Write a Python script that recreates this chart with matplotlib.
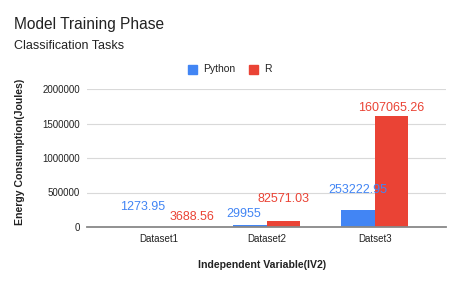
import matplotlib
matplotlib.use('Agg')
import matplotlib.pyplot as plt
import numpy as np
from matplotlib.patches import Rectangle

plt.rcParams['font.family'] = ['Liberation Sans', 'DejaVu Sans']

# Data
datasets = ['Dataset1', 'Dataset2', 'Datset3']
python_vals = [1273.95, 29955, 253222.95]
r_vals = [3688.56, 82571.03, 1607065.26]
python_labels = ['1273.95', '29955', '253222.95']
r_labels = ['3688.56', '82571.03', '1607065.26']
y_ticks = [0, 500000, 1000000, 1500000, 2000000]

blue = '#4285F4'
red = '#EA4335'

# label offsets (points) so the labels are staggered like the original
py_off = [(1, 14), (-4, 8), (0, 14)]
r_off = [(12, 7), (0, 16), (0, 6)]

W, H = 460, 285
fig = plt.figure(figsize=(W / 100, H / 100), dpi=100)
ax = fig.add_axes([87 / W, (H - 227) / H, 359 / W, 138 / H])

x = np.arange(len(datasets))
bw = 0.31
ax.bar(x - bw / 2, python_vals, bw, color=blue, zorder=3)
ax.bar(x + bw / 2, r_vals, bw, color=red, zorder=3)

for i in range(len(datasets)):
    ax.annotate(python_labels[i], (x[i] - bw / 2, python_vals[i]), xytext=py_off[i],
                textcoords='offset points', ha='center', va='center', fontsize=9, color=blue, zorder=4)
    ax.annotate(r_labels[i], (x[i] + bw / 2, r_vals[i]), xytext=r_off[i],
                textcoords='offset points', ha='center', va='center', fontsize=9, color=red, zorder=4)

ax.set_xlim(-0.66, 2.66)
ax.set_ylim(0, 2000000)
ax.set_yticks(y_ticks)
ax.set_yticklabels([str(v) for v in y_ticks])
ax.set_xticks(x)
ax.set_xticklabels(datasets)
ax.tick_params(axis='both', length=0, labelsize=7, colors='#222222', pad=5)
ax.grid(axis='y', color='#d9d9d9', linewidth=0.8, zorder=0)
for s in ['top', 'right', 'left']:
    ax.spines[s].set_visible(False)
ax.spines['bottom'].set_color('#888888')
ax.spines['bottom'].set_linewidth(1.3)
ax.spines['bottom'].set_zorder(5)

fig.text(20 / W, 1 - 152 / H, 'Energy Consumption(Joules)', rotation=90, ha='center', va='center',
         fontsize=7.6, fontweight='bold', color='#222222')
fig.text(262 / W, 1 - 265 / H, 'Independent Variable(IV2)', ha='center', va='center',
         fontsize=7.6, fontweight='bold', color='#222222')

fig.text(14 / W, 1 - 24 / H, 'Model Training Phase', ha='left', va='center', fontsize=11.2, color='#222222')
fig.text(14 / W, 1 - 46 / H, 'Classification Tasks', ha='left', va='center', fontsize=9, color='#222222')

# legend
fig.patches.append(Rectangle((188 / W, 1 - 74 / H), 9 / W, 9 / H, transform=fig.transFigure,
                             color=blue, figure=fig))
fig.text(203 / W, 1 - 69 / H, 'Python', ha='left', va='center', fontsize=7.5, color='#222222')
fig.patches.append(Rectangle((249 / W, 1 - 74 / H), 9 / W, 9 / H, transform=fig.transFigure,
                             color=red, figure=fig))
fig.text(264 / W, 1 - 69 / H, 'R', ha='left', va='center', fontsize=7.5, color='#222222')

plt.savefig('out.png', dpi=100)
